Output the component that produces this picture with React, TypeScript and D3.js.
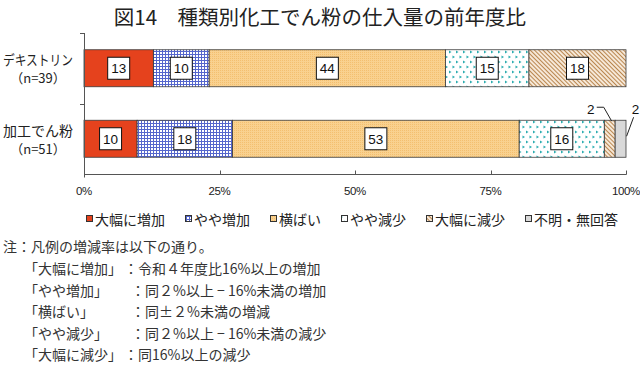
import React, { useEffect, useRef } from 'react';
import * as d3 from 'd3';

const categories = ['デキストリン', '加工でん粉'];
const sampleSizes = ['（n=39）', '（n=51）'];
const seriesNames = ['大幅に増加', 'やや増加', '横ばい', 'やや減少', '大幅に減少', '不明・無回答'];
const dextrinValues = [12.8, 10.3, 43.6, 15.4, 17.9, 0];
const starchValues = [9.8, 17.6, 52.9, 15.7, 2.0, 2.0];
const xTicks = [0, 25, 50, 75, 100];

const noteHead = '注：凡例の増減率は以下の通り。';
const noteLabels = ['「大幅に増加」', '「やや増加」', '「横ばい」', '「やや減少」', '「大幅に減少」'];
const noteBodies = [
  '：令和４年度比16%以上の増加',
  '：同２%以上 − 16%未満の増加',
  '：同±２%未満の増減',
  '：同２%以上 − 16%未満の減少',
  '：同16%以上の減少',
];

const W = 640;
const H = 365;
const JP = "'Noto Sans CJK JP', 'Noto Sans', sans-serif";
const LATIN = "'Liberation Sans', Arial, sans-serif";

export default function App() {
  const svgRef = useRef<SVGSVGElement>(null);

  useEffect(() => {
    if (!svgRef.current) return;
    document.body.style.margin = '0';
    const svg = d3.select(svgRef.current);
    svg.selectAll('*').remove();

    // fill patterns for each series
    const defs = svg.append('defs');
    const pat = (id: string, w: number, h: number, bg: string) => {
      const p = defs.append('pattern')
        .attr('id', id)
        .attr('patternUnits', 'userSpaceOnUse')
        .attr('width', w)
        .attr('height', h);
      p.append('rect').attr('width', w).attr('height', h).attr('fill', bg);
      return p;
    };

    pat('p0', 4, 4, '#E5421D');

    pat('p1', 3, 3, '#ffffff')
      .append('path')
      .attr('d', 'M0,0.5H3M0.5,0V3')
      .attr('stroke', '#5566CC')
      .attr('stroke-width', 1);

    const p2 = pat('p2', 2, 2, '#F9D18F');
    p2.append('rect').attr('width', 1).attr('height', 1).attr('fill', '#F3BF70');

    const p3 = pat('p3', 7, 10, '#ffffff');
    ['M1,0.5L3.5,2L1,3.5Z', 'M4.5,5.5L7,7L4.5,8.5Z'].forEach((d) =>
      p3.append('path').attr('d', d).attr('fill', '#2BADB0'));

    pat('p4', 3, 3, '#F6E8D7')
      .attr('patternTransform', 'rotate(-45)')
      .append('path')
      .attr('d', 'M0.5,0V3')
      .attr('stroke', '#B9864F')
      .attr('stroke-width', 1);

    pat('p5', 4, 4, '#D9D9D9');

    const x = d3.scaleLinear().domain([0, 100]).range([84, 626]);
    const y = d3.scaleBand<string>()
      .domain(categories)
      .range([33, 174])
      .paddingInner(0.475)
      .paddingOuter(0.2375);
    const bw = y.bandwidth();

    const valueRows = [dextrinValues, starchValues];
    const table = categories.map((c, i) => {
      const row: Record<string, any> = { cat: c };
      seriesNames.forEach((s, j) => { row[s] = valueRows[i][j]; });
      return row;
    });
    const stacked = d3.stack<Record<string, any>>().keys(seriesNames)(table);

    // title
    svg.append('text')
      .attr('x', W / 2)
      .attr('y', 16)
      .attr('text-anchor', 'middle')
      .attr('dominant-baseline', 'central')
      .attr('font-family', JP)
      .attr('font-size', 20.5)
      .attr('fill', '#222')
      .text('図14　種類別化工でん粉の仕入量の前年度比');

    // bars
    stacked.forEach((layer, j) => {
      layer.forEach((d) => {
        if (d[1] - d[0] <= 0) return;
        svg.append('rect')
          .attr('x', x(d[0]))
          .attr('y', y(d.data.cat)!)
          .attr('width', x(d[1]) - x(d[0]))
          .attr('height', bw)
          .attr('fill', `url(#p${j})`)
          .attr('stroke', '#3a3a3a')
          .attr('stroke-width', 0.8);
      });
    });

    // value labels
    categories.forEach((cat) => {
      let small = 0;
      stacked.forEach((layer) => {
        const d = layer.find((e) => e.data.cat === cat)!;
        const v = d[1] - d[0];
        if (v <= 0) return;
        const cx = x((d[0] + d[1]) / 2);
        const top = y(cat)!;
        const label = String(Math.round(v));
        if (v >= 5) {
          svg.append('rect')
            .attr('x', cx - 11)
            .attr('y', top + bw / 2 - 11)
            .attr('width', 22)
            .attr('height', 22)
            .attr('fill', '#fff')
            .attr('stroke', '#111')
            .attr('stroke-width', 1);
          svg.append('text')
            .attr('x', cx)
            .attr('y', top + bw / 2 + 0.5)
            .attr('text-anchor', 'middle')
            .attr('dominant-baseline', 'central')
            .attr('font-family', LATIN)
            .attr('font-size', 13.5)
            .attr('fill', '#111')
            .text(label);
        } else {
          const left = small === 0;
          small += 1;
          svg.append('path')
            .attr('d', left
              ? `M${cx - 13},${top - 13}H${cx - 6}L${cx + 2},${top + 1}`
              : `M${cx + 13},${top - 3}L${cx + 6},${top + 16}`)
            .attr('fill', 'none')
            .attr('stroke', '#222')
            .attr('stroke-width', 1);
          svg.append('text')
            .attr('x', left ? cx - 19 : cx + 15)
            .attr('y', top - 11)
            .attr('text-anchor', 'middle')
            .attr('dominant-baseline', 'central')
            .attr('font-family', LATIN)
            .attr('font-size', 13.5)
            .attr('fill', '#111')
            .text(label);
        }
      });
    });

    // category labels
    categories.forEach((cat, i) => {
      const cy = y(cat)! + bw / 2;
      const t = svg.append('text')
        .attr('x', 38)
        .attr('y', cy - 9)
        .attr('text-anchor', 'middle')
        .attr('dominant-baseline', 'central')
        .attr('font-family', JP)
        .attr('font-size', 14)
        .attr('fill', '#222')
        .text(cat);
      if (cat.length > 5) t.attr('textLength', 70).attr('lengthAdjust', 'spacingAndGlyphs');
      svg.append('text')
        .attr('x', 38)
        .attr('y', cy + 9.5)
        .attr('text-anchor', 'middle')
        .attr('dominant-baseline', 'central')
        .attr('font-family', JP)
        .attr('font-size', 13)
        .attr('fill', '#222')
        .text(sampleSizes[i]);
    });

    // axes
    const axisY = 174.5;
    const axis = svg.append('g').attr('stroke', '#555').attr('stroke-width', 1).attr('fill', 'none');
    axis.append('path').attr('d', `M84.5,${y.range()[0]}V${axisY + 3}`);
    axis.append('path').attr('d', `M84,${axisY}H${x(100) + 0.5}`);
    const between = (y(categories[0])! + bw + y(categories[1])!) / 2;
    [y.range()[0] + 0.5, Math.round(between) + 0.5].forEach((ty) =>
      axis.append('path').attr('d', `M80,${ty}H84.5`));
    xTicks.slice(1).forEach((t) =>
      axis.append('path').attr('d', `M${Math.round(x(t)) + 0.5},${axisY}V${axisY - 4}`));

    xTicks.forEach((t) => {
      svg.append('text')
        .attr('x', x(t))
        .attr('y', 191)
        .attr('text-anchor', 'middle')
        .attr('dominant-baseline', 'central')
        .attr('font-family', LATIN)
        .attr('font-size', 11.5)
        .attr('letter-spacing', -0.4)
        .attr('fill', '#222')
        .text(`${t}%`);
    });

    // legend
    let lx = 86;
    seriesNames.forEach((s, j) => {
      svg.append('rect')
        .attr('x', lx + 0.5)
        .attr('y', 215.5)
        .attr('width', 6)
        .attr('height', 6)
        .attr('fill', `url(#p${j})`)
        .attr('stroke', '#333')
        .attr('stroke-width', 1);
      svg.append('text')
        .attr('x', lx + 9)
        .attr('y', 219)
        .attr('dominant-baseline', 'central')
        .attr('font-family', JP)
        .attr('font-size', 14)
        .attr('fill', '#222')
        .text(s);
      lx += 9 + s.length * 14 + 20;
    });

    // notes
    const notes = svg.append('g')
      .attr('font-family', JP)
      .attr('font-size', 14)
      .attr('fill', '#333');
    notes.append('text')
      .attr('x', 3)
      .attr('y', 246)
      .attr('dominant-baseline', 'central')
      .text(noteHead);
    noteLabels.forEach((lab, i) => {
      const ly = 268 + i * 21.6;
      notes.append('text')
        .attr('x', 24)
        .attr('y', ly)
        .attr('dominant-baseline', 'central')
        .text(lab);
      notes.append('text')
        .attr('x', lab.length > 6 ? 124 : 131)
        .attr('y', ly)
        .attr('dominant-baseline', 'central')
        .text(noteBodies[i]);
    });
  }, []);

  return (
    <svg
      ref={svgRef}
      width={W}
      height={H}
      style={{ display: 'block', background: '#fff' }}
    />
  );
}
